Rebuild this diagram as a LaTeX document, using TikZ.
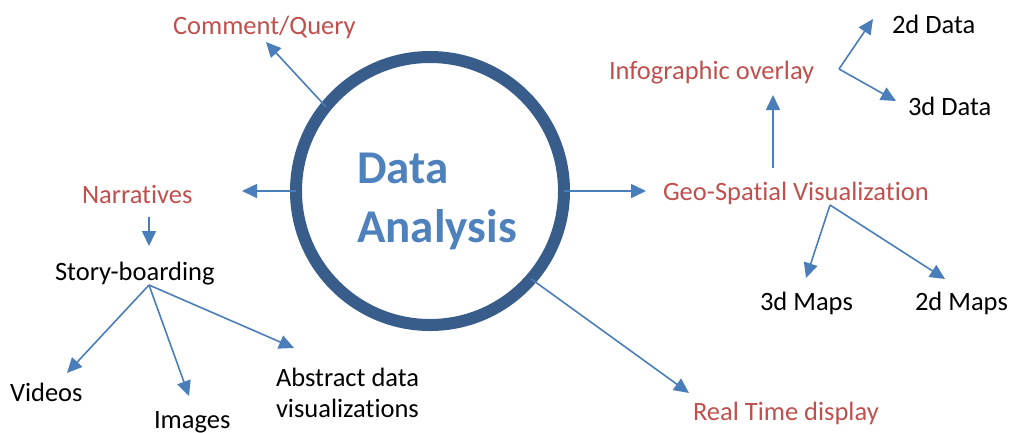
\documentclass[tikz,border=0pt]{standalone}
\usepackage{fontspec}
\setmainfont{Carlito}[Ligatures={NoCommon}]
\usetikzlibrary{arrows.meta}
\definecolor{ringblue}{HTML}{385D8A}
\definecolor{arrowblue}{HTML}{4A7EBB}
\definecolor{titleblue}{HTML}{4F81BD}
\definecolor{labelred}{HTML}{C0504D}
\tikzset{
  lbl/.style={inner sep=0pt, outer sep=0pt, anchor=base west, font=\fontsize{26.5}{31}\selectfont},
  redlbl/.style={lbl, text=labelred},
  blacklbl/.style={lbl, text=black},
  title/.style={inner sep=0pt, anchor=base west, text=titleblue, font=\fontsize{47}{56}\selectfont\bfseries},
  arr/.style={draw=arrowblue, line width=1.6pt, -{Triangle[length=15pt,width=14pt]}},
  ring/.style={circle, draw=ringblue, line width=12pt, minimum size=268pt, inner sep=0pt, outer sep=0pt}
}
\begin{document}
\begin{tikzpicture}[x=1pt,y=-1pt]
\useasboundingbox (0,0) rectangle (1011,432);
% central circle
\node[ring] (circ) at (430,191) {};
\node[title] (dataA) at (357,183) {Data};
\node[title] (dataB) at (357,242) {Analysis};
% labels
\node[redlbl] (comment) at (173,34) {Comment/Query};
\node[redlbl] (narr) at (82,203) {Narratives};
\node[blacklbl] (story) at (55,280) {Story-boarding};
\node[blacklbl] (videos) at (10,401) {Videos};
\node[blacklbl] (images) at (154,428) {Images};
\node[blacklbl, align=left, anchor=north west] (abstract) at (276,368.5) {Abstract data\\visualizations};
\node[redlbl] (geo) at (663,200) {Geo-Spatial Visualization};
\node[redlbl] (info) at (609,79) {Infographic overlay};
\node[blacklbl] (d2data) at (892,33) {2d Data};
\node[blacklbl] (d3data) at (908,115) {3d Data};
\node[blacklbl] (m3) at (760,310) {3d Maps};
\node[blacklbl] (m2) at (915,310) {2d Maps};
\node[redlbl] (realtime) at (693,420) {Real Time display};
% connector end points
\coordinate (tipComment) at (266,42);
\coordinate (tipNarr) at (242,191);
\coordinate (narrBot) at (149,217);
\coordinate (tipStory) at (149,246);
\coordinate (storyPt) at (149,285);
\coordinate (tipVideos) at (67,373);
\coordinate (tipImages) at (189,396);
\coordinate (tipAbstract) at (294,348);
\coordinate (tipGeo) at (646,191);
\coordinate (geoTop) at (773,168);
\coordinate (tipInfo) at (773,95);
\coordinate (infoPt) at (839,69);
\coordinate (tip2d) at (873,19);
\coordinate (tip3d) at (896,101);
\coordinate (geoPt) at (830,205);
\coordinate (tip3m) at (806,278);
\coordinate (tip2m) at (945,279);
\coordinate (tipReal) at (689,393);
% connectors
\draw[arr] (circ.141) -- (tipComment);
\draw[arr] (circ.180) -- (tipNarr);
\draw[arr] (circ.0) -- (tipGeo);
\draw[arr] (circ.-41.6) -- (tipReal);
\draw[arr] (narrBot) -- (tipStory);
\draw[arr] (storyPt) -- (tipVideos);
\draw[arr] (storyPt) -- (tipImages);
\draw[arr] (storyPt) -- (tipAbstract);
\draw[arr] (geoTop) -- (tipInfo);
\draw[arr] (infoPt) -- (tip2d);
\draw[arr] (infoPt) -- (tip3d);
\draw[arr] (geoPt) -- (tip3m);
\draw[arr] (geoPt) -- (tip2m);
\end{tikzpicture}
\end{document}
